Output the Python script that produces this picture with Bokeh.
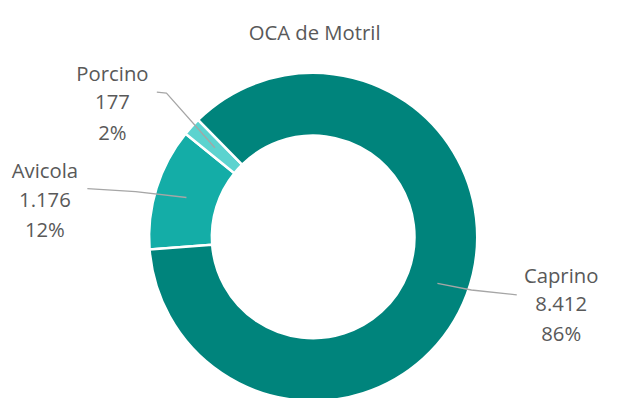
import math
from bokeh.plotting import figure
from bokeh.models import Range1d, ColumnDataSource
from bokeh.core.properties import value
from bokeh.embed import file_html
from bokeh.resources import INLINE

# ---- data ----
title_text = "OCA de Motril"
categories = ["Avicola", "Porcino", "Caprino"]
values = [1176, 177, 8412]
colors = ["#14ADA7", "#5CD3CF", "#00847C"]

# ---- layout (reference pixel coordinates, uniformly scaled to fit) ----
W, H = 606, 398
S = 0.965


def fx(x):
    return x * S


def fy(y):
    return H - y * S


p = figure(width=W, height=H, x_range=Range1d(0, W), y_range=Range1d(0, H),
           output_backend="svg", toolbar_location=None, min_border=0)
p.axis.visible = False
p.grid.visible = False
p.outline_line_color = None
p.background_fill_color = "white"
p.border_fill_color = "white"

cx, cy = fx(324), fy(245)
R_OUT, R_IN = 170 * S, 105 * S
START = 265.6  # degrees clockwise from 12 o'clock where first slice begins

total = sum(values)
starts, ends, mids = [], [], []
acc = START
for v in values:
    span = v / total * 360.0
    starts.append(acc)
    ends.append(acc + span)
    mids.append(acc + span / 2)
    acc += span


def to_rad(theta):
    return math.radians(90 - theta)


src = ColumnDataSource(dict(start=[to_rad(s) for s in starts],
                            end=[to_rad(e) for e in ends],
                            color=colors))
p.annular_wedge(x=cx, y=cy, inner_radius=R_IN, outer_radius=R_OUT,
                start_angle="start", end_angle="end", direction="clock",
                fill_color="color", line_color="white", line_width=2.5,
                source=src)

# label layout: centre x, first baseline, leader line outer points (ref px)
label_layout = {
    "Avicola": dict(x=46, base=176, leader=[(90, 195), (140, 198)]),
    "Porcino": dict(x=116, base=75, leader=[(162, 95), (172, 96)]),
    "Caprino": dict(x=581, base=284, leader=[(535, 305), (488, 300)]),
}
LINE_GAP = 30.5
R_MID = (R_IN + R_OUT) / 2
FONT = f"{21 * S:.1f}px"

tx, ty, tt = [], [], []
for cat, v, m in zip(categories, values, mids):
    lay = label_layout[cat]
    pct = f"{round(v / total * 100)}%"
    num = f"{v:,}".replace(",", ".")
    for i, s in enumerate([cat, num, pct]):
        tx.append(fx(lay["x"]))
        ty.append(fy(lay["base"] + i * LINE_GAP))
        tt.append(s)
    ax = cx + R_MID * math.sin(math.radians(m))
    ay = cy + R_MID * math.cos(math.radians(m))
    lx = [fx(a) for a, b in lay["leader"]] + [ax]
    ly = [fy(b) for a, b in lay["leader"]] + [ay]
    p.line(lx, ly, line_color="#A6A6A6", line_width=1.3)

p.text(x=tx, y=ty, text=tt, text_font=value("Open Sans"), text_font_size=FONT,
       text_color="#595959", text_align="center", text_baseline="alphabetic")

p.text(x=[fx(325.5)], y=[fy(33)], text=[title_text], text_font=value("Open Sans"),
       text_font_size=FONT, text_color="#595959", text_align="center",
       text_baseline="alphabetic")

open("out.html", "w").write(file_html(p, INLINE))
